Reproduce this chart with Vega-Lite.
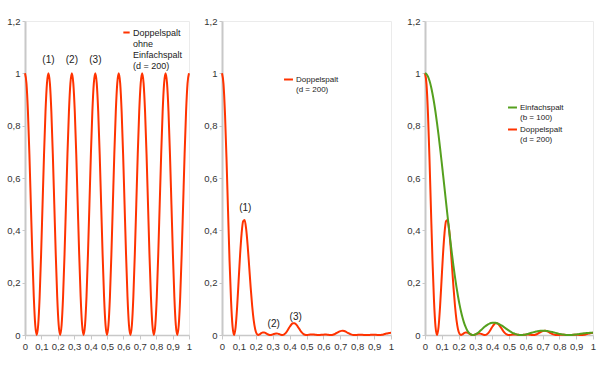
{
"$schema": "https://vega.github.io/schema/vega-lite/v6.json",
"background": "white",
"padding": {"left": 6, "top": 15, "right": 0, "bottom": 0},
"datasets": {
"d": [
{"x":0,"a":1,"b":1,"g":1},
{"x":0.0089,"a":0.9619,"b":0.9589,"g":0.9968},
{"x":0.0179,"a":0.8536,"b":0.8426,"g":0.9872},
{"x":0.0268,"a":0.6913,"b":0.6716,"g":0.9714},
{"x":0.0357,"a":0.5,"b":0.4748,"g":0.9496},
{"x":0.0446,"a":0.3087,"b":0.2847,"g":0.9222},
{"x":0.0536,"a":0.1464,"b":0.1303,"g":0.8896},
{"x":0.0625,"a":0.0381,"b":0.0324,"g":0.8522},
{"x":0.0714,"a":0,"b":0,"g":0.8106},
{"x":0.0804,"a":0.0381,"b":0.0291,"g":0.7654},
{"x":0.0893,"a":0.1464,"b":0.1051,"g":0.7173},
{"x":0.0982,"a":0.3087,"b":0.2059,"g":0.6669},
{"x":0.1071,"a":0.5,"b":0.3075,"g":0.615},
{"x":0.1161,"a":0.6913,"b":0.3887,"g":0.5622},
{"x":0.125,"a":0.8536,"b":0.4346,"g":0.5092},
{"x":0.1339,"a":0.9619,"b":0.4393,"g":0.4567},
{"x":0.1429,"a":1,"b":0.4053,"g":0.4053},
{"x":0.1518,"a":0.9619,"b":0.342,"g":0.3556},
{"x":0.1607,"a":0.8536,"b":0.2629,"g":0.308},
{"x":0.1696,"a":0.6913,"b":0.182,"g":0.2632},
{"x":0.1786,"a":0.5,"b":0.1107,"g":0.2214},
{"x":0.1875,"a":0.3087,"b":0.0565,"g":0.183},
{"x":0.1964,"a":0.1464,"b":0.0217,"g":0.1482},
{"x":0.2054,"a":0.0381,"b":0.0045,"g":0.1172},
{"x":0.2143,"a":0,"b":0,"g":0.0901},
{"x":0.2232,"a":0.0381,"b":0.0025,"g":0.0668},
{"x":0.2321,"a":0.1464,"b":0.0069,"g":0.0474},
{"x":0.2411,"a":0.3087,"b":0.0098,"g":0.0316},
{"x":0.25,"a":0.5,"b":0.0097,"g":0.0194},
{"x":0.2589,"a":0.6913,"b":0.0072,"g":0.0104},
{"x":0.2679,"a":0.8536,"b":0.0037,"g":0.0044},
{"x":0.2768,"a":0.9619,"b":0.001,"g":0.001},
{"x":0.2857,"a":1,"b":0,"g":0},
{"x":0.2946,"a":0.9619,"b":0.0009,"g":0.0009},
{"x":0.3036,"a":0.8536,"b":0.0029,"g":0.0034},
{"x":0.3125,"a":0.6913,"b":0.0049,"g":0.0071},
{"x":0.3214,"a":0.5,"b":0.0059,"g":0.0117},
{"x":0.3304,"a":0.3087,"b":0.0052,"g":0.0168},
{"x":0.3393,"a":0.1464,"b":0.0032,"g":0.0222},
{"x":0.3482,"a":0.0381,"b":0.001,"g":0.0275},
{"x":0.3571,"a":0,"b":0,"g":0.0324},
{"x":0.3661,"a":0.0381,"b":0.0014,"g":0.0369},
{"x":0.375,"a":0.1464,"b":0.006,"g":0.0407},
{"x":0.3839,"a":0.3087,"b":0.0135,"g":0.0436},
{"x":0.3929,"a":0.5,"b":0.0229,"g":0.0457},
{"x":0.4018,"a":0.6913,"b":0.0324,"g":0.0469},
{"x":0.4107,"a":0.8536,"b":0.0403,"g":0.0472},
{"x":0.4196,"a":0.9619,"b":0.0448,"g":0.0465},
{"x":0.4286,"a":1,"b":0.045,"g":0.045},
{"x":0.4375,"a":0.9619,"b":0.0412,"g":0.0428},
{"x":0.4464,"a":0.8536,"b":0.0341,"g":0.0399},
{"x":0.4554,"a":0.6913,"b":0.0253,"g":0.0365},
{"x":0.4643,"a":0.5,"b":0.0164,"g":0.0328},
{"x":0.4732,"a":0.3087,"b":0.0089,"g":0.0287},
{"x":0.4821,"a":0.1464,"b":0.0036,"g":0.0246},
{"x":0.4911,"a":0.0381,"b":0.0008,"g":0.0205},
{"x":0.5,"a":0,"b":0,"g":0.0165},
{"x":0.5089,"a":0.0381,"b":0.0005,"g":0.0129},
{"x":0.5179,"a":0.1464,"b":0.0014,"g":0.0095},
{"x":0.5268,"a":0.3087,"b":0.002,"g":0.0066},
{"x":0.5357,"a":0.5,"b":0.0021,"g":0.0042},
{"x":0.5446,"a":0.6913,"b":0.0016,"g":0.0024},
{"x":0.5536,"a":0.8536,"b":0.0009,"g":0.001},
{"x":0.5625,"a":0.9619,"b":0.0002,"g":0.0003},
{"x":0.5714,"a":1,"b":0,"g":0},
{"x":0.5804,"a":0.9619,"b":0.0002,"g":0.0002},
{"x":0.5893,"a":0.8536,"b":0.0008,"g":0.0009},
{"x":0.5982,"a":0.6913,"b":0.0013,"g":0.0019},
{"x":0.6071,"a":0.5,"b":0.0016,"g":0.0033},
{"x":0.6161,"a":0.3087,"b":0.0015,"g":0.0048},
{"x":0.625,"a":0.1464,"b":0.001,"g":0.0065},
{"x":0.6339,"a":0.0381,"b":0.0003,"g":0.0083},
{"x":0.6429,"a":0,"b":0,"g":0.01},
{"x":0.6518,"a":0.0381,"b":0.0004,"g":0.0116},
{"x":0.6607,"a":0.1464,"b":0.0019,"g":0.0131},
{"x":0.6696,"a":0.3087,"b":0.0044,"g":0.0143},
{"x":0.6786,"a":0.5,"b":0.0077,"g":0.0153},
{"x":0.6875,"a":0.6913,"b":0.0111,"g":0.016},
{"x":0.6964,"a":0.8536,"b":0.014,"g":0.0164},
{"x":0.7054,"a":0.9619,"b":0.0158,"g":0.0165},
{"x":0.7143,"a":1,"b":0.0162,"g":0.0162},
{"x":0.7232,"a":0.9619,"b":0.0151,"g":0.0157},
{"x":0.7321,"a":0.8536,"b":0.0127,"g":0.0148},
{"x":0.7411,"a":0.6913,"b":0.0095,"g":0.0138},
{"x":0.75,"a":0.5,"b":0.0063,"g":0.0126},
{"x":0.7589,"a":0.3087,"b":0.0034,"g":0.0112},
{"x":0.7679,"a":0.1464,"b":0.0014,"g":0.0097},
{"x":0.7768,"a":0.0381,"b":0.0003,"g":0.0082},
{"x":0.7857,"a":0,"b":0,"g":0.0067},
{"x":0.7946,"a":0.0381,"b":0.0002,"g":0.0053},
{"x":0.8036,"a":0.1464,"b":0.0006,"g":0.004},
{"x":0.8125,"a":0.3087,"b":0.0009,"g":0.0028},
{"x":0.8214,"a":0.5,"b":0.0009,"g":0.0018},
{"x":0.8304,"a":0.6913,"b":0.0007,"g":0.001},
{"x":0.8393,"a":0.8536,"b":0.0004,"g":0.0004},
{"x":0.8482,"a":0.9619,"b":0.0001,"g":0.0001},
{"x":0.8571,"a":1,"b":0,"g":0},
{"x":0.8661,"a":0.9619,"b":0.0001,"g":0.0001},
{"x":0.875,"a":0.8536,"b":0.0004,"g":0.0004},
{"x":0.8839,"a":0.6913,"b":0.0006,"g":0.0009},
{"x":0.8929,"a":0.5,"b":0.0008,"g":0.0015},
{"x":0.9018,"a":0.3087,"b":0.0007,"g":0.0023},
{"x":0.9107,"a":0.1464,"b":0.0005,"g":0.0031},
{"x":0.9196,"a":0.0381,"b":0.0002,"g":0.0039},
{"x":0.9286,"a":0,"b":0,"g":0.0048},
{"x":0.9375,"a":0.0381,"b":0.0002,"g":0.0056},
{"x":0.9464,"a":0.1464,"b":0.0009,"g":0.0064},
{"x":0.9554,"a":0.3087,"b":0.0022,"g":0.007},
{"x":0.9643,"a":0.5,"b":0.0038,"g":0.0076},
{"x":0.9732,"a":0.6913,"b":0.0055,"g":0.008},
{"x":0.9821,"a":0.8536,"b":0.007,"g":0.0082},
{"x":0.9911,"a":0.9619,"b":0.008,"g":0.0083},
{"x":1,"a":1,"b":0.0083,"g":0.0083}
],
"ann": [
{"p":1,"x":0.143,"y":1.05,"t":"(1)"},
{"p":1,"x":0.286,"y":1.05,"t":"(2)"},
{"p":1,"x":0.429,"y":1.05,"t":"(3)"},
{"p":2,"x":0.138,"y":0.486,"t":"(1)"},
{"p":2,"x":0.306,"y":0.041,"t":"(2)"},
{"p":2,"x":0.436,"y":0.07,"t":"(3)"}
]
},
"config": {
"font": "Liberation Sans",
"view": {"stroke": "#ebebeb", "strokeWidth": 1},
"axis": {"grid": false, "title": null, "labelFont": "Liberation Sans", "labelFontSize": 9.5, "labelColor": "#333333", "domainColor": "#c8c8c8", "tickColor": "#c8c8c8", "tickSize": 4, "labelPadding": 2, "labelOverlap": false, "labelFlush": false},
"axisY": {"domainWidth": 2, "tickSize": 3},
"axisX": {"domainWidth": 1.5},
"line": {"strokeWidth": 2, "interpolate": "monotone"},
"text": {"font": "Liberation Sans", "fontSize": 10, "color": "#222222"},
"legend": {"title": null, "orient": "none", "symbolType": "stroke", "symbolStrokeWidth": 2.5, "labelFont": "Liberation Sans", "labelColor": "#222222", "labelLimit": 300, "labelOffset": 2, "padding": 0}
},
"spacing": 9,
"resolve": {"scale": {"color": "independent"}, "legend": {"color": "independent"}},
"hconcat": [
{
"width": 164, "height": 314,
"layer": [
{"data": {"name": "d"}, "mark": {"type": "line"},
 "encoding": {
  "x": {"field": "x", "type": "quantitative", "scale": {"domain": [0, 1], "nice": false}, "axis": {"values": [0,0.1,0.2,0.3,0.4,0.5,0.6,0.7,0.8,0.9,1], "tickCount": 20, "format": ".1~f", "labelOverlap": false, "labelFlush": false, "labelExpr": "replace(datum.label, '.', ',')"}},
  "y": {"field": "a", "type": "quantitative", "scale": {"domain": [0, 1.2], "nice": false}, "axis": {"values": [0,0.2,0.4,0.6,0.8,1,1.2], "tickCount": 20, "format": ".1~f", "labelOverlap": false, "labelExpr": "replace(datum.label, '.', ',')"}},
  "color": {"datum": "Doppelspalt ohne Einfachspalt", "scale": {"range": ["#ff3300"]}, "legend": {"legendX": 97, "legendY": 7, "symbolSize": 40, "labelFontSize": 9, "labelExpr": "['Doppelspalt', 'ohne', 'Einfachspalt', '(d = 200)']"}}
 }},
{"data": {"name": "ann"}, "transform": [{"filter": "datum.p == 1"}], "mark": {"type": "text"},
 "encoding": {"x": {"field": "x", "type": "quantitative"}, "y": {"field": "y", "type": "quantitative"}, "text": {"field": "t"}}}
]
},
{
"spacing": 10,
"resolve": {"scale": {"color": "independent"}, "legend": {"color": "independent"}},
"hconcat": [
{
"width": 169, "height": 314,
"layer": [
{"data": {"name": "d"}, "mark": {"type": "line"},
 "encoding": {
  "x": {"field": "x", "type": "quantitative", "scale": {"domain": [0, 1], "nice": false}, "axis": {"values": [0,0.1,0.2,0.3,0.4,0.5,0.6,0.7,0.8,0.9,1], "tickCount": 20, "format": ".1~f", "labelOverlap": false, "labelFlush": false, "labelExpr": "replace(datum.label, '.', ',')"}},
  "y": {"field": "b", "type": "quantitative", "scale": {"domain": [0, 1.2], "nice": false}, "axis": {"values": [0,0.2,0.4,0.6,0.8,1,1.2], "tickCount": 20, "format": ".1~f", "labelOverlap": false, "labelExpr": "replace(datum.label, '.', ',')"}},
  "color": {"datum": "Doppelspalt", "scale": {"range": ["#ff3300"]}, "legend": {"legendX": 61, "legendY": 53, "symbolSize": 80, "labelFontSize": 8, "labelBaseline": "middle", "labelExpr": "['Doppelspalt', '\u00a0\u00a0\u00a0\u00a0(d = 200)']"}}
 }},
{"data": {"name": "ann"}, "transform": [{"filter": "datum.p == 2"}], "mark": {"type": "text"},
 "encoding": {"x": {"field": "x", "type": "quantitative"}, "y": {"field": "y", "type": "quantitative"}, "text": {"field": "t"}}}
]
},
{
"width": 168, "height": 314,
"layer": [
{"data": {"name": "d"}, "mark": {"type": "line"},
 "encoding": {
  "x": {"field": "x", "type": "quantitative", "scale": {"domain": [0, 1], "nice": false}, "axis": {"values": [0,0.1,0.2,0.3,0.4,0.5,0.6,0.7,0.8,0.9,1], "tickCount": 20, "format": ".1~f", "labelOverlap": false, "labelFlush": false, "labelExpr": "replace(datum.label, '.', ',')"}},
  "y": {"field": "b", "type": "quantitative", "scale": {"domain": [0, 1.2], "nice": false}, "axis": {"values": [0,0.2,0.4,0.6,0.8,1,1.2], "tickCount": 20, "format": ".1~f", "labelOverlap": false, "labelExpr": "replace(datum.label, '.', ',')"}},
  "color": {"datum": "Doppelspalt", "scale": {"domain": ["Einfachspalt", "Doppelspalt"], "range": ["#55a01e", "#ff3300"]}, "legend": {"legendX": 82, "legendY": 81, "symbolSize": 80, "labelFontSize": 8, "labelBaseline": "middle", "labelExpr": "datum.label == 'Einfachspalt' ? ['Einfachspalt', '\u00a0\u00a0\u00a0\u00a0(b = 100)'] : ['Doppelspalt', '\u00a0\u00a0\u00a0\u00a0(d = 200)']"}}
 }},
{"data": {"name": "d"}, "mark": {"type": "line"},
 "encoding": {
  "x": {"field": "x", "type": "quantitative"},
  "y": {"field": "g", "type": "quantitative"},
  "color": {"datum": "Einfachspalt"}
 }}
]
}
]
}
]
}
